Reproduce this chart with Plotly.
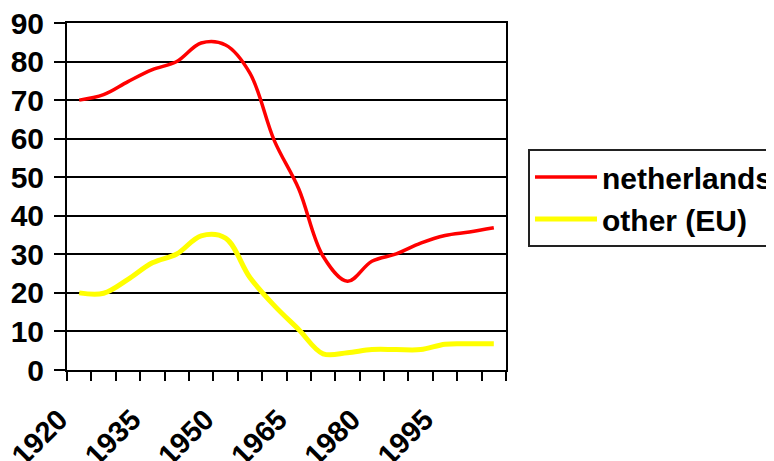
import plotly.graph_objects as go

years = [1920, 1925, 1930, 1935, 1940, 1945, 1950, 1955, 1960, 1965,
         1970, 1975, 1980, 1985, 1990, 1995, 2000, 2005]
netherlands = [70, 71.4, 74.8, 77.9, 80, 84.8, 84.3, 77, 59.5, 47,
               29.5, 23, 28.2, 30.1, 32.9, 34.9, 35.8, 36.9]
other_eu = [20, 19.9, 23.5, 27.8, 30.1, 34.8, 34.2, 24, 16.7, 10.5,
            4.2, 4.5, 5.3, 5.3, 5.3, 6.7, 6.8, 6.8]
label_years = [1920, 1935, 1950, 1965, 1980, 1995]
y_ticks = [0, 10, 20, 30, 40, 50, 60, 70, 80, 90]

FONT = "Liberation Sans, Arial, sans-serif"

fig = go.Figure()
fig.add_trace(go.Scatter(x=years, y=netherlands, name="netherlands", mode="lines",
                         legendgroup="nl",
                         line=dict(color="#FF0000", width=3.5, shape="spline", smoothing=1.0)))
fig.add_trace(go.Scatter(x=years, y=other_eu, name="other (EU)", mode="lines",
                         legendgroup="eu",
                         line=dict(color="#FFFF00", width=5, shape="spline", smoothing=1.0)))

# page body has an 8px margin, so the figure sits 8px right/down in the window
fig.update_layout(
    template="none",
    width=774, height=461,
    margin=dict(l=59, r=276, t=15, b=99, autoexpand=False),
    paper_bgcolor="white", plot_bgcolor="white",
    font=dict(family=FONT, color="black"),
    showlegend=True,
    legend=dict(x=(528 - 67) / 439, y=(370 - 149) / 347, xanchor="left", yanchor="top",
                bordercolor="#222222", borderwidth=2, bgcolor="white",
                font=dict(family=FONT, size=30, color="black", weight="bold"),
                tracegroupgap=0, itemwidth=62),
)
fig.update_xaxes(
    range=[1917.5, 2007.5], tickmode="array", tickvals=label_years,
    ticktext=[str(y) for y in label_years], tickangle=-45,
    tickfont=dict(family=FONT, size=29, color="black", weight="bold"),
    ticks="", showgrid=False, zeroline=False, automargin=False,
    ticklabeloverflow="allow",
    showline=True, linecolor="black", linewidth=2, mirror=True,
    ticklabelstandoff=19, ticklabelshift=-20,
    minor=dict(ticks="outside", tick0=1917.5, dtick=5, ticklen=9, tickwidth=2,
               tickcolor="black", showgrid=False),
)
fig.update_yaxes(
    range=[0, 90], tickmode="array", tickvals=y_ticks,
    tickfont=dict(family=FONT, size=30, color="black", weight="bold"),
    ticks="outside", ticklen=11, tickwidth=2, tickcolor="black", automargin=False,
    ticklabeloverflow="allow", ticklabelstandoff=4,
    showgrid=True, gridcolor="black", gridwidth=1.5, zeroline=False,
    showline=True, linecolor="black", linewidth=2, mirror=True,
)

fig.write_html("out.html")
